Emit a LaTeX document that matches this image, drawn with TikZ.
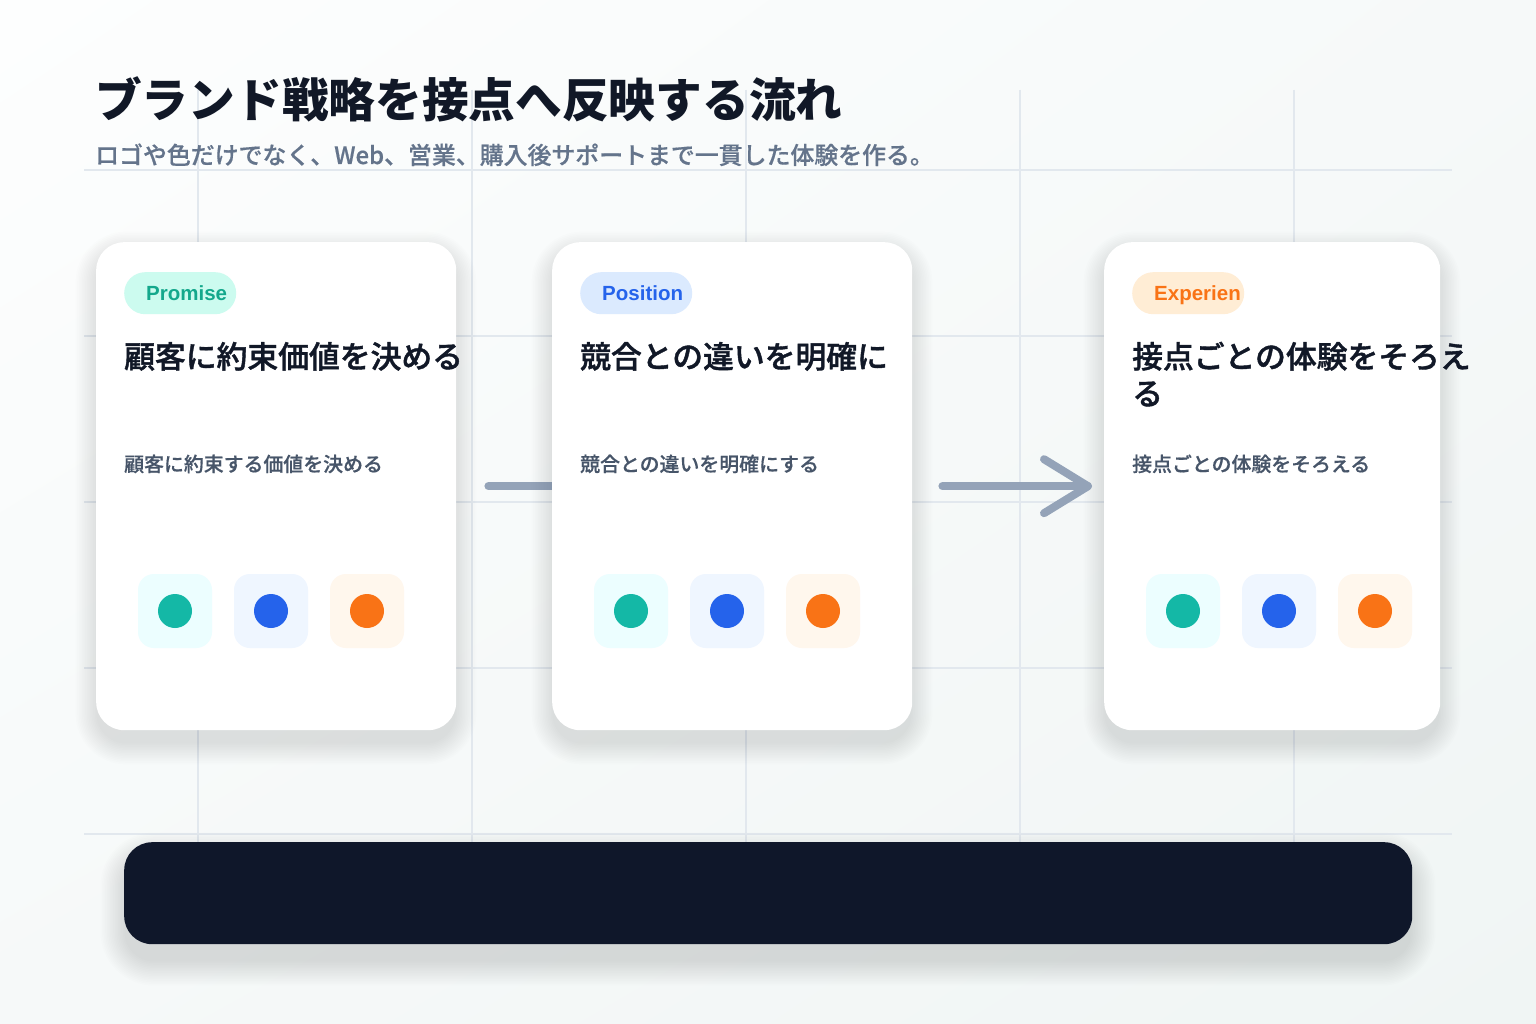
\documentclass[tikz,border=0pt]{standalone}
\usepackage{fontspec}
\usetikzlibrary{shadings}
\newfontfamily\jp{Noto Sans CJK JP}
\newfontfamily\jpm{Noto Sans CJK JP Medium}[FakeBold=0.5]
\newfontfamily\jps{Noto Sans CJK JP Medium}[FakeBold=1.3]
\newfontfamily\pillfont{Liberation Sans}
\definecolor{bgTL}{HTML}{FDFEFE}
\definecolor{bgBR}{HTML}{F0F5F4}
\definecolor{bgM}{HTML}{F6F9F9}
\definecolor{gridc}{HTML}{E2E8EE}
\definecolor{ink}{HTML}{111827}
\definecolor{subc}{HTML}{64748B}
\definecolor{csub}{HTML}{475569}
\definecolor{arrowc}{HTML}{94A3B8}
\definecolor{barc}{HTML}{0F172A}
\definecolor{shc}{HTML}{334155}
\definecolor{pillA}{HTML}{CCFBEF}
\definecolor{pillAt}{HTML}{14A88C}
\definecolor{pillB}{HTML}{DBEAFE}
\definecolor{pillBt}{HTML}{2563EB}
\definecolor{pillC}{HTML}{FFEDD5}
\definecolor{pillCt}{HTML}{F97316}
\definecolor{tileA}{HTML}{ECFEFF}
\definecolor{tileB}{HTML}{EFF6FF}
\definecolor{tileC}{HTML}{FFF7ED}
\definecolor{dotA}{HTML}{14B8A6}
\definecolor{dotB}{HTML}{2563EB}
\definecolor{dotC}{HTML}{F97316}
% soft drop shadow: x1 y1 x2 y2 radius yoffset steps opacity
\newcommand\dropshade[8]{%
  \foreach \i in {1,...,#7}{%
    \pgfmathsetmacro\g{1.6*\i}%
    \pgfmathsetmacro\rr{#5+\g}%
    \fill[shc, opacity=#8, rounded corners=\rr pt] (#1+2-\g, #2+#6-\g) rectangle (#3-2+\g, #4+#6+\g);
  }}
\tikzset{
  card/.style={draw=none, fill=white, rounded corners=28pt, anchor=north west, minimum height=488pt, inner sep=0pt},
  pill/.style={fill=#1, rounded corners=21pt, anchor=north west, minimum width=112pt, minimum height=42pt, inner sep=0pt},
  pilltext/.style={anchor=base west, inner sep=0pt, font=\pillfont\bfseries\fontsize{20.5}{24}\selectfont, text=#1},
  ctitle/.style={anchor=base west, inner sep=0pt, font=\jps\fontsize{30.8}{37}\selectfont, text=ink, align=left},
  csubt/.style={anchor=base west, inner sep=0pt, font=\jpm\fontsize{19.9}{24}\selectfont, text=csub},
  tile/.style={fill=#1, rounded corners=16pt, minimum width=74pt, minimum height=74pt, inner sep=0pt},
  dot/.style={circle, fill=#1, minimum size=34pt, inner sep=0pt},
  gridline/.style={draw=gridc, line width=1.6pt},
  flow/.style={draw=arrowc, line width=8pt, line cap=round, line join=round},
}
\begin{document}
\begin{tikzpicture}[x=1pt, y=-1pt]
\useasboundingbox (0,0) rectangle (1536,1024);
\shade[upper left=bgTL, upper right=bgM, lower left=bgM, lower right=bgBR] (0,0) rectangle (1536,1024);
% grid
\foreach \gx in {198,472,746,1020,1294} \draw[gridline] (\gx,90) -- (\gx,842);
\foreach \gy in {170,336,502,668,834} \draw[gridline] (84,\gy) -- (1452,\gy);
% heading
\node[anchor=base west, inner sep=0pt, font=\jp\bfseries\fontsize{46.7}{56}\selectfont, text=ink] (title) at (95,118) {ブランド戦略を接点へ反映する流れ};
\node[anchor=base west, inner sep=0pt, font=\jpm\fontsize{23.9}{29}\selectfont, text=subc] (subtitle) at (95,164) {ロゴや色だけでなく、Web、営業、購入後サポートまで一貫した体験を作る。};
% card 1
\dropshade{96}{242}{456}{730}{28}{12}{14}{0.006}
\node[card, minimum width=360pt] (c1) at (96,242) {};
% connector 1 (mostly hidden under card 2)
\coordinate (a1s) at ([xshift=32pt]c1.east);
\coordinate (a1e) at ([xshift=180pt]c1.east);
\draw[flow] (a1s) -- (a1e);
\draw[flow] ([xshift=-44pt,yshift=28pt]a1e) -- (a1e) -- ([xshift=-44pt,yshift=-28pt]a1e);
% card 2
\dropshade{552}{242}{912}{730}{28}{12}{14}{0.006}
\node[card, minimum width=360pt] (c2) at (552,242) {};
% card 3
\dropshade{1104}{242}{1440}{730}{28}{12}{14}{0.006}
\node[card, minimum width=336pt] (c3) at (1104,242) {};
% connector 2
\coordinate (a2s) at ([xshift=30pt]c2.east);
\coordinate (a2e) at ([xshift=-16pt]c3.west);
\draw[flow] (a2s) -- (a2e);
\draw[flow] ([xshift=-44pt,yshift=27pt]a2e) -- (a2e) -- ([xshift=-44pt,yshift=-27pt]a2e);
% card 1 content
\node[pill=pillA] (p1) at (124,272) {};
\node[pilltext=pillAt] (p1t) at (146,301) {Promise};
\node[ctitle] (t1) at (124,368) {顧客に約束価値を決める};
\node[csubt] (s1) at (124,471.5) {顧客に約束する価値を決める};
\node[tile=tileA] (i1a) at (175,611) {};
\node[tile=tileB] (i1b) at (271,611) {};
\node[tile=tileC] (i1c) at (367,611) {};
\node[dot=dotA] at (i1a) {};
\node[dot=dotB] at (i1b) {};
\node[dot=dotC] at (i1c) {};
% card 2 content
\node[pill=pillB] (p2) at (580,272) {};
\node[pilltext=pillBt] (p2t) at (602,301) {Position};
\node[ctitle] (t2) at (580,368) {競合との違いを明確に};
\node[csubt] (s2) at (580,471.5) {競合との違いを明確にする};
\node[tile=tileA] (i2a) at (631,611) {};
\node[tile=tileB] (i2b) at (727,611) {};
\node[tile=tileC] (i2c) at (823,611) {};
\node[dot=dotA] at (i2a) {};
\node[dot=dotB] at (i2b) {};
\node[dot=dotC] at (i2c) {};
% card 3 content
\node[pill=pillC] (p3) at (1132,272) {};
\node[pilltext=pillCt] (p3t) at (1154,301) {Experien};
\node[ctitle] (t3) at (1132,405) {接点ごとの体験をそろえ\\る};
\node[csubt] (s3) at (1132,471.5) {接点ごとの体験をそろえる};
\node[tile=tileA] (i3a) at (1183,611) {};
\node[tile=tileB] (i3b) at (1279,611) {};
\node[tile=tileC] (i3c) at (1375,611) {};
\node[dot=dotA] at (i3a) {};
\node[dot=dotB] at (i3b) {};
\node[dot=dotC] at (i3c) {};
% bottom bar
\dropshade{124}{842}{1412}{944}{28}{16}{16}{0.008}
\node[fill=barc, rounded corners=28pt, anchor=north west, minimum width=1288pt, minimum height=102pt, inner sep=0pt] (bar) at (124,842) {};
\end{tikzpicture}
\end{document}
